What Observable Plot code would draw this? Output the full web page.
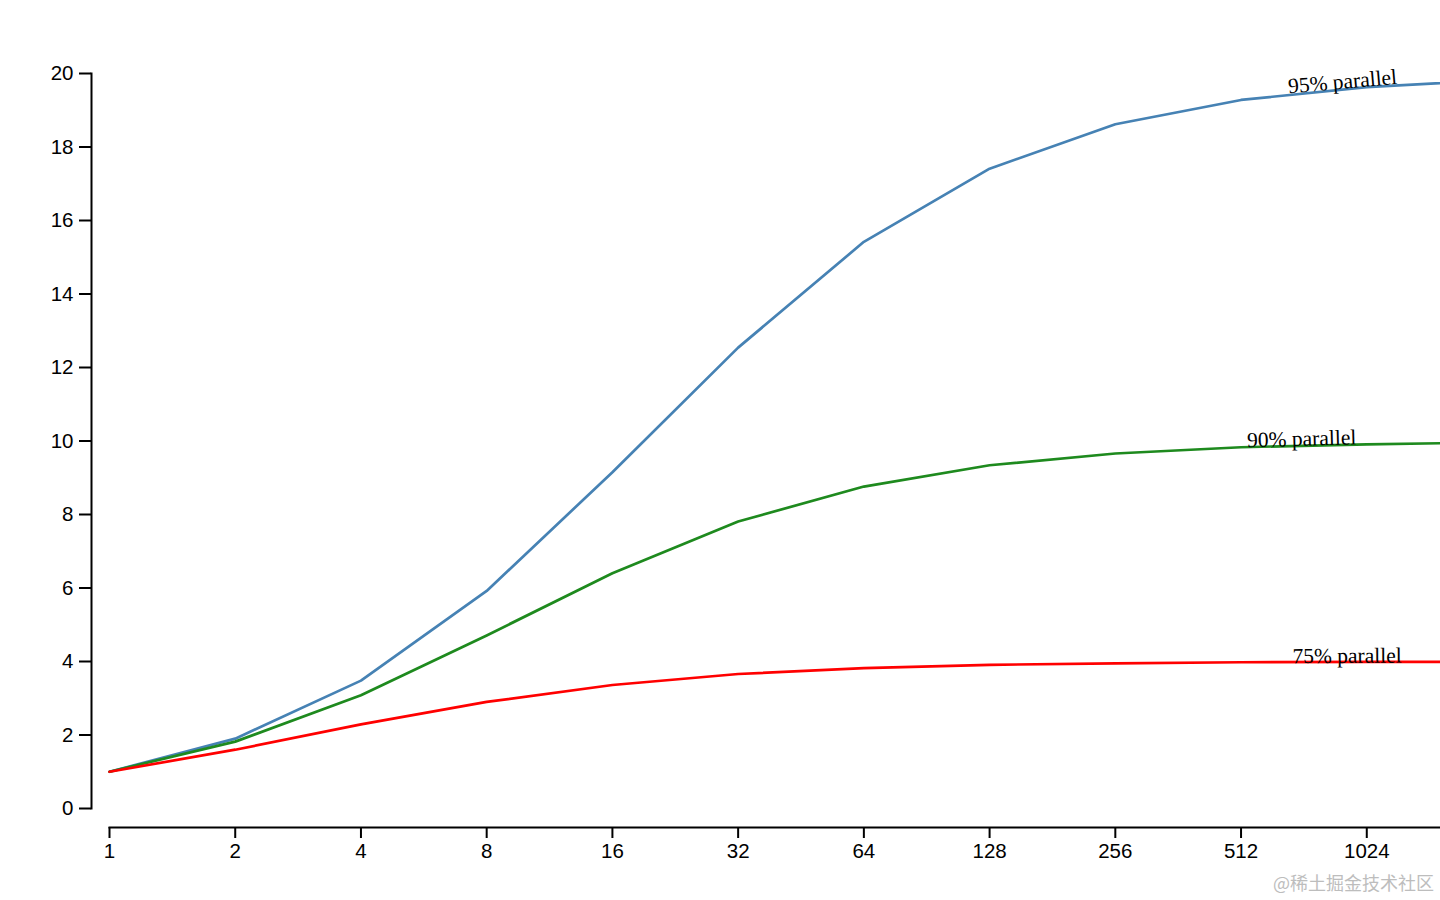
<!DOCTYPE html>
<html>
<head>
<meta charset="utf-8">
<script src="https://cdn.jsdelivr.net/npm/d3@7"></script>
<script src="https://cdn.jsdelivr.net/npm/@observablehq/plot@0.6"></script>
<style>
  html, body { margin: 0; padding: 0; background: #fff; overflow: hidden; }
  #chart { position: absolute; left: 0; top: 0; }
  #mark { position: absolute; right: 6px; top: 869px; color: #bdbdbd; font: 18px "Noto Sans CJK SC", sans-serif; }
</style>
</head>
<body>
<div id="chart"></div>
<div id="mark">@稀土掘金技术社区</div>
<script>
// processors (x, log base 2)
const processors = [1, 2, 4, 8, 16, 32, 64, 128, 256, 512, 1024, 2048];
const xTicks = [1, 2, 4, 8, 16, 32, 64, 128, 256, 512, 1024];
const yTicks = [0, 2, 4, 6, 8, 10, 12, 14, 16, 18, 20];

// speedup
const speedup95 = [1, 1.90, 3.48, 5.92, 9.15, 12.54, 15.42, 17.41, 18.62, 19.28, 19.63, 19.82];
const speedup90 = [1, 1.82, 3.08, 4.71, 6.40, 7.81, 8.76, 9.34, 9.66, 9.83, 9.91, 9.96];
const speedup75 = [1, 1.60, 2.29, 2.90, 3.36, 3.66, 3.82, 3.91, 3.95, 3.98, 3.99, 3.99];

const seriesNames = ["95% parallel", "90% parallel", "75% parallel"];
const seriesValues = [speedup95, speedup90, speedup75];
const seriesColors = ["steelblue", "#1e8a1e", "red"];

// label anchors (data units) and angles
const labelX = [666, 530, 680];
const labelY = [19.46, 9.83, 3.955];
const labelAngle = [-5, -1.5, -0.3];

const rows = seriesNames.flatMap((name, s) =>
  processors.map((n, i) => ({series: name, n, v: seriesValues[s][i]})));
const labels = seriesNames.map((name, s) => ({name, n: labelX[s], v: labelY[s], a: labelAngle[s]}));

const chart = Plot.plot({
  width: 1440,
  height: 900,
  marginTop: 73,
  marginBottom: 73,
  marginLeft: 91,
  marginRight: 0,
  style: {fontFamily: "'Liberation Sans', Arial, sans-serif", color: "black", background: "white"},
  x: {type: "log", base: 2, domain: [1, 2048], range: [109, 1492], label: null},
  y: {domain: [0, 20], insetBottom: 19, label: null},
  color: {domain: seriesNames, range: seriesColors},
  marks: [
    Plot.frame({anchor: "left", insetBottom: 19, strokeWidth: 2}),
    Plot.frame({anchor: "bottom", insetLeft: 18, strokeWidth: 2}),
    Plot.axisY({ticks: yTicks, tickSize: 12, tickPadding: 6, fontSize: 20.5, strokeWidth: 2, label: null}),
    Plot.axisX({ticks: xTicks, tickFormat: d => String(d), tickSize: 11, tickPadding: 5, fontSize: 20.5, strokeWidth: 2, label: null}),
    Plot.line(rows, {x: "n", y: "v", z: "series", stroke: "series", strokeWidth: 2.7}),
    ...labels.map(l => Plot.text([l], {
      x: "n", y: "v", text: "name", rotate: l.a,
      textAnchor: "start", lineAnchor: "bottom",
      fontFamily: "'Liberation Serif', 'Times New Roman', serif", fontSize: 21.5, fill: "black"
    }))
  ]
});
document.getElementById("chart").appendChild(chart);
</script>
</body>
</html>
